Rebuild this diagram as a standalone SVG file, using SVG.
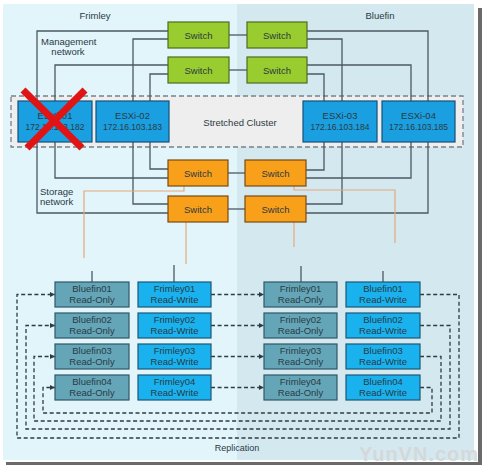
<svg xmlns="http://www.w3.org/2000/svg" width="485" height="467" viewBox="0 0 485 467">
<defs>
<style>
text{font-family:"Liberation Sans",Arial,sans-serif;fill:#2b3a44;text-anchor:middle}
.lbl{font-size:9.5px}
.ip{font-size:8.5px}
.host{fill:#1a9fe0;stroke:#17517a;stroke-width:1.2}
.gsw{fill:#99cc2e;stroke:#4f6a20;stroke-width:1.2}
.osw{fill:#f9a01b;stroke:#7a4a10;stroke-width:1.2}
.ro{fill:#64a6b8;stroke:#2e5866;stroke-width:1.2}
.rw{fill:#19b2ee;stroke:#1c5877;stroke-width:1.2}
.net{fill:none;stroke:#4c5863;stroke-width:1.3}
.tan{fill:none;stroke:#e6a878;stroke-width:1.2}
.arr{fill:none;stroke:#2f3a42;stroke-width:1.3;stroke-dasharray:4 2.6;marker-end:url(#ah)}
</style>
<marker id="ah" viewBox="0 0 6 6" refX="6" refY="3" markerWidth="5" markerHeight="5" orient="auto" markerUnits="userSpaceOnUse">
<path d="M0,0 L6,3 L0,6 Z" fill="#2f3a42"/>
</marker>
</defs>
<rect width="485" height="467" fill="#ffffff"/>
<rect x="478" y="8" width="4" height="457" fill="#6a6a6a"/>
<rect x="6" y="462" width="476" height="3" fill="#6a6a6a"/>
<rect x="3" y="4" width="234" height="456" fill="#e1f5fb"/>
<rect x="237" y="4" width="237" height="456" fill="#d4e8f0"/>
<text x="95" y="19" class="lbl">Frimley</text>
<text x="380" y="19" class="lbl">Bluefin</text>
<text x="41" y="45" class="lbl" style="text-anchor:start">Management</text>
<text x="68" y="55" class="lbl">network</text>
<text x="40" y="195" class="lbl" style="text-anchor:start">Storage</text>
<text x="40" y="205" class="lbl" style="text-anchor:start">network</text>
<text x="237" y="451" class="lbl" style="font-size:9px">Replication</text>
<rect id="stretched-cluster" x="11" y="96" width="452" height="51" fill="#eeeeee" stroke="#7a8088" stroke-width="1.3" stroke-dasharray="5 3"/>
<text x="240" y="126" class="lbl">Stretched Cluster</text>
<g id="connectors">
<polyline class="net" points="168,31 37,31 37,101"/>
<polyline class="net" points="168,39 133,39 133,101"/>
<polyline class="net" points="168,65 55,65 55,101"/>
<polyline class="net" points="168,74 150,74 150,101"/>
<polyline class="net" points="307,31 428,31 428,101"/>
<polyline class="net" points="307,39 342,39 342,101"/>
<polyline class="net" points="307,65 411,65 411,101"/>
<polyline class="net" points="307,74 324,74 324,101"/>
<line class="net" x1="229" y1="35" x2="247" y2="35"/>
<line class="net" x1="229" y1="70" x2="247" y2="70"/>
<polyline class="net" points="150,142 150,169 168,169"/>
<polyline class="net" points="55,142 55,178 168,178"/>
<polyline class="net" points="133,142 133,204 168,204"/>
<polyline class="net" points="37,142 37,213 168,213"/>
<polyline class="net" points="324,142 324,170 306,170"/>
<polyline class="net" points="411,142 411,178 306,178"/>
<polyline class="net" points="342,142 342,204 306,204"/>
<polyline class="net" points="428,142 428,213 306,213"/>
<line class="net" x1="228" y1="173" x2="245" y2="173"/>
<line class="net" x1="228" y1="209" x2="245" y2="209"/>
<polyline class="tan" points="184,186 184,191 84,191 84,258"/>
<polyline class="tan" points="186,222 186,264"/>
<polyline class="tan" points="294,186 294,190 395,190 395,243"/>
<polyline class="tan" points="294,222 294,247"/>
<line class="net" x1="92" y1="271" x2="92" y2="282"/>
<line class="net" x1="174" y1="265" x2="174" y2="282"/>
<line class="net" x1="301" y1="266" x2="301" y2="282"/>
<line class="net" x1="383" y1="271" x2="383" y2="282"/>
<line class="arr" x1="211" y1="294.5" x2="264" y2="294.5"/>
<line class="arr" x1="211" y1="325.5" x2="264" y2="325.5"/>
<line class="arr" x1="211" y1="356.5" x2="264" y2="356.5"/>
<line class="arr" x1="211" y1="387.5" x2="264" y2="387.5"/>
<polyline class="arr" points="420,294.5 459,294.5 459,438 17,438 17,294.5 55,294.5"/>
<polyline class="arr" points="420,325.5 450,325.5 450,429 26,429 26,325.5 55,325.5"/>
<polyline class="arr" points="420,356.5 441,356.5 441,421 34,421 34,356.5 55,356.5"/>
<polyline class="arr" points="420,387.5 432,387.5 432,413 43,413 43,387.5 55,387.5"/>
</g>
<g id="mgmt-switch-l1"><rect class="gsw" x="168" y="22" width="61" height="26"/><text x="198.5" y="38.5" class="lbl">Switch</text></g>
<g id="mgmt-switch-l2"><rect class="gsw" x="168" y="57" width="61" height="26"/><text x="198.5" y="73.5" class="lbl">Switch</text></g>
<g id="mgmt-switch-r1"><rect class="gsw" x="247" y="22" width="60" height="26"/><text x="277" y="38.5" class="lbl">Switch</text></g>
<g id="mgmt-switch-r2"><rect class="gsw" x="247" y="57" width="60" height="26"/><text x="277" y="73.5" class="lbl">Switch</text></g>
<g id="esxi-01"><rect class="host" x="18" y="101" width="74" height="41"/><text x="55" y="119" class="lbl">ESXi-01</text><text x="55" y="130" class="ip">172.16.103.182</text></g>
<g id="esxi-02"><rect class="host" x="96" y="101" width="73" height="41"/><text x="132.5" y="119" class="lbl">ESXi-02</text><text x="132.5" y="130" class="ip">172.16.103.183</text></g>
<g id="esxi-03"><rect class="host" x="303" y="101" width="74" height="41"/><text x="340" y="119" class="lbl">ESXi-03</text><text x="340" y="130" class="ip">172.16.103.184</text></g>
<g id="esxi-04"><rect class="host" x="382" y="101" width="73" height="41"/><text x="418.5" y="119" class="lbl">ESXi-04</text><text x="418.5" y="130" class="ip">172.16.103.185</text></g>
<g id="failure-x"><line x1="23" y1="90" x2="82" y2="148" stroke="#e01414" stroke-width="7"/><line x1="85" y1="90" x2="27" y2="148" stroke="#e01414" stroke-width="7"/></g>
<g id="stor-switch-l1"><rect class="osw" x="168" y="160" width="60" height="26"/><text x="198" y="176.5" class="lbl">Switch</text></g>
<g id="stor-switch-l2"><rect class="osw" x="168" y="196" width="60" height="26"/><text x="198" y="212.5" class="lbl">Switch</text></g>
<g id="stor-switch-r1"><rect class="osw" x="245" y="160" width="61" height="26"/><text x="275.5" y="176.5" class="lbl">Switch</text></g>
<g id="stor-switch-r2"><rect class="osw" x="245" y="196" width="61" height="26"/><text x="275.5" y="212.5" class="lbl">Switch</text></g>
<g id="bluefin01-ro"><rect class="ro" x="55" y="282" width="74" height="25"/><text x="92" y="292" class="lbl">Bluefin01</text><text x="92" y="303" class="lbl">Read-Only</text></g>
<g id="bluefin02-ro"><rect class="ro" x="55" y="313" width="74" height="25"/><text x="92" y="323" class="lbl">Bluefin02</text><text x="92" y="334" class="lbl">Read-Only</text></g>
<g id="bluefin03-ro"><rect class="ro" x="55" y="344" width="74" height="25"/><text x="92" y="354" class="lbl">Bluefin03</text><text x="92" y="365" class="lbl">Read-Only</text></g>
<g id="bluefin04-ro"><rect class="ro" x="55" y="375" width="74" height="25"/><text x="92" y="385" class="lbl">Bluefin04</text><text x="92" y="396" class="lbl">Read-Only</text></g>
<g id="frimley01-rw"><rect class="rw" x="138" y="282" width="73" height="25"/><text x="174.5" y="292" class="lbl">Frimley01</text><text x="174.5" y="303" class="lbl">Read-Write</text></g>
<g id="frimley02-rw"><rect class="rw" x="138" y="313" width="73" height="25"/><text x="174.5" y="323" class="lbl">Frimley02</text><text x="174.5" y="334" class="lbl">Read-Write</text></g>
<g id="frimley03-rw"><rect class="rw" x="138" y="344" width="73" height="25"/><text x="174.5" y="354" class="lbl">Frimley03</text><text x="174.5" y="365" class="lbl">Read-Write</text></g>
<g id="frimley04-rw"><rect class="rw" x="138" y="375" width="73" height="25"/><text x="174.5" y="385" class="lbl">Frimley04</text><text x="174.5" y="396" class="lbl">Read-Write</text></g>
<g id="frimley01-ro"><rect class="ro" x="264" y="282" width="73" height="25"/><text x="300.5" y="292" class="lbl">Frimley01</text><text x="300.5" y="303" class="lbl">Read-Only</text></g>
<g id="frimley02-ro"><rect class="ro" x="264" y="313" width="73" height="25"/><text x="300.5" y="323" class="lbl">Frimley02</text><text x="300.5" y="334" class="lbl">Read-Only</text></g>
<g id="frimley03-ro"><rect class="ro" x="264" y="344" width="73" height="25"/><text x="300.5" y="354" class="lbl">Frimley03</text><text x="300.5" y="365" class="lbl">Read-Only</text></g>
<g id="frimley04-ro"><rect class="ro" x="264" y="375" width="73" height="25"/><text x="300.5" y="385" class="lbl">Frimley04</text><text x="300.5" y="396" class="lbl">Read-Only</text></g>
<g id="bluefin01-rw"><rect class="rw" x="346" y="282" width="74" height="25"/><text x="383" y="292" class="lbl">Bluefin01</text><text x="383" y="303" class="lbl">Read-Write</text></g>
<g id="bluefin02-rw"><rect class="rw" x="346" y="313" width="74" height="25"/><text x="383" y="323" class="lbl">Bluefin02</text><text x="383" y="334" class="lbl">Read-Write</text></g>
<g id="bluefin03-rw"><rect class="rw" x="346" y="344" width="74" height="25"/><text x="383" y="354" class="lbl">Bluefin03</text><text x="383" y="365" class="lbl">Read-Write</text></g>
<g id="bluefin04-rw"><rect class="rw" x="346" y="375" width="74" height="25"/><text x="383" y="385" class="lbl">Bluefin04</text><text x="383" y="396" class="lbl">Read-Write</text></g>
<text x="419" y="461" style="font-size:20px;font-weight:bold;fill:#d6d6d6;fill-opacity:0.9;letter-spacing:1px">YunVN.com</text>
</svg>
